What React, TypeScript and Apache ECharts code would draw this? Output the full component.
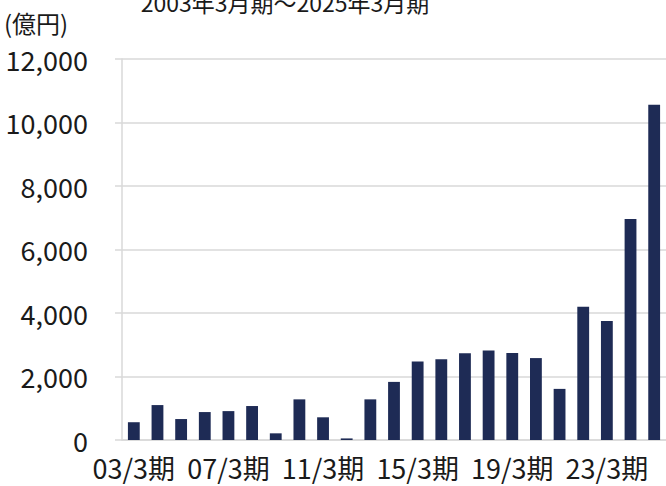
import React, { useEffect, useRef } from "react";
import * as echarts from "echarts";

const categories = [
  "03/3期", "04/3期", "05/3期", "06/3期", "07/3期", "08/3期", "09/3期", "10/3期",
  "11/3期", "12/3期", "13/3期", "14/3期", "15/3期", "16/3期", "17/3期", "18/3期",
  "19/3期", "20/3期", "21/3期", "22/3期", "23/3期", "24/3期", "25/3期",
];
const values = [
  560, 1100, 660, 880, 910, 1070, 210, 1280, 715, 50, 1280, 1830, 2470, 2540,
  2730, 2820, 2740, 2580, 1610, 4200, 3750, 6960, 10560,
];
const titleText = "2003年3月期～2025年3月期";
const unitText = "(億円)";

const FONT = "'Noto Sans CJK JP', sans-serif";

export default function App() {
  const ref = useRef<HTMLDivElement>(null);
  useEffect(() => {
    if (!ref.current) return;
    const chart = echarts.init(ref.current, undefined, { renderer: "svg" });
    chart.setOption({
      animation: false,
      backgroundColor: "#ffffff",
      graphic: [
        {
          type: "text",
          x: 285,
          y: -10,
          style: {
            text: titleText,
            fontSize: 23,
            fontFamily: FONT,
            fill: "#1a1a1a",
            textAlign: "center",
            textVerticalAlign: "top",
          },
        },
        {
          type: "text",
          x: 4,
          y: 10,
          style: {
            text: unitText,
            fontSize: 24,
            fontFamily: FONT,
            fill: "#1a1a1a",
            textVerticalAlign: "top",
          },
        },
      ],
      grid: { left: 122, top: 59, bottom: 46, right: -8, containLabel: false },
      xAxis: {
        type: "category",
        data: categories,
        axisLine: { show: true, lineStyle: { color: "#d9d9d9", width: 1.5 } },
        axisTick: { show: false },
        axisLabel: {
          interval: 3,
          fontSize: 27,
          fontFamily: FONT,
          color: "#1a1a1a",
          margin: 14,
        },
      },
      yAxis: {
        type: "value",
        min: 0,
        max: 12000,
        interval: 2000,
        axisLine: { show: true, lineStyle: { color: "#d9d9d9", width: 1.5 } },
        axisTick: { show: true, length: 7, lineStyle: { color: "#d9d9d9", width: 1.5 } },
        splitLine: { show: true, lineStyle: { color: "#d9d9d9", width: 1.5 } },
        axisLabel: {
          fontSize: 27,
          fontFamily: FONT,
          color: "#1a1a1a",
          margin: 34,
          formatter: (v: number) => v.toLocaleString("en-US"),
        },
      },
      series: [
        {
          type: "bar",
          data: values,
          barWidth: "50%",
          itemStyle: { color: "#1e2b55" },
        },
      ],
    });
    return () => chart.dispose();
  }, []);
  return <div ref={ref} style={{ width: 666, height: 486, position: "fixed", left: 0, top: 0 }} />;
}
